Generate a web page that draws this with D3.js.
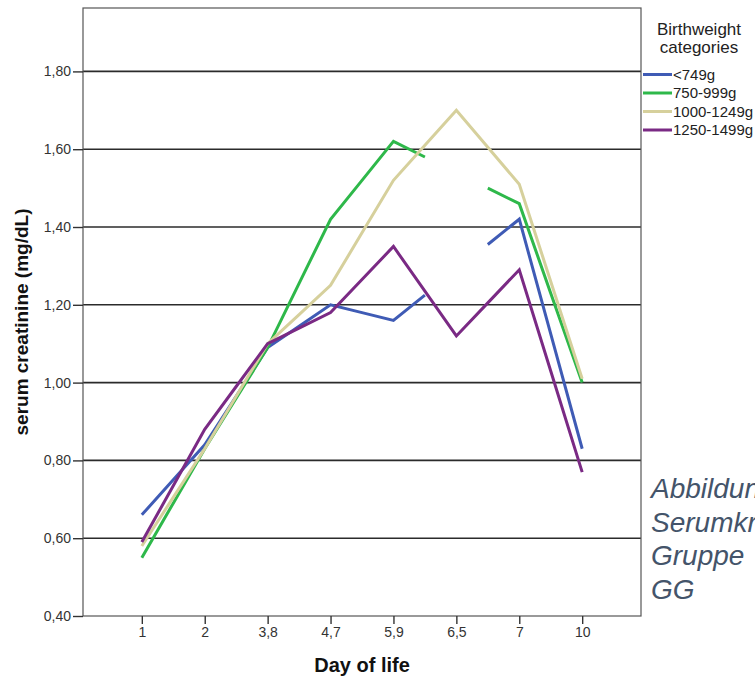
<!DOCTYPE html>
<html>
<head>
<meta charset="utf-8">
<script src="https://cdn.jsdelivr.net/npm/d3@7"></script>
<style>
  body { margin: 0; background: #fff; overflow: hidden; }
  svg { display: block; font-family: "Liberation Sans", Arial, sans-serif; }
</style>
</head>
<body>
<svg width="755" height="679"></svg>
<script>
// Chart data
const days = ["1", "2", "3,8", "4,7", "5,9", "6,5", "7", "10"];
const yTicks = [0.4, 0.6, 0.8, 1.0, 1.2, 1.4, 1.6, 1.8];
const categories = ["<749g", "750-999g", "1000-1249g", "1250-1499g"];
const colors = ["#3f5bb5", "#2eb84a", "#d6d09c", "#7a2a84"];

const below749 = [0.66, 0.84, 1.09, 1.20, 1.16, 1.29, 1.42, 0.83];
const from750 = [0.55, 0.83, 1.09, 1.42, 1.62, 1.54, 1.46, 1.00];
const from1000 = [0.58, 0.83, 1.10, 1.25, 1.52, 1.70, 1.51, 1.01];
const from1250 = [0.59, 0.88, 1.10, 1.18, 1.35, 1.12, 1.29, 0.77];
const seriesValues = [below749, from750, from1000, from1250];

// points at day 6,5 that the original chart leaves out (line broken there)
const hiddenAt65 = ["<749g", "750-999g"];

const frame = { left: 83, top: 8, right: 641, bottom: 616 };
const svg = d3.select("svg");

const xScale = d3.scalePoint()
                 .domain(days)
                 .range([frame.left, frame.right])
                 .padding(0.935);

const yScale = d3.scaleLinear()
                 .domain([0.4, 1.963])
                 .range([frame.bottom, frame.top]);

// Gridlines
svg.append("g")
  .selectAll("line")
  .data(yTicks.slice(1))
  .enter()
  .append("line")
    .attr("x1", frame.left)
    .attr("x2", frame.right)
    .attr("y1", d => yScale(d))
    .attr("y2", d => yScale(d))
    .attr("stroke", "#2b2b2b")
    .attr("stroke-width", 1.6);

// Frame
svg.append("rect")
    .attr("x", frame.left)
    .attr("y", frame.top)
    .attr("width", frame.right - frame.left)
    .attr("height", frame.bottom - frame.top)
    .attr("fill", "none")
    .attr("stroke", "#555")
    .attr("stroke-width", 1.2);

// Axes
const yAxis = d3.axisLeft(yScale)
                .tickValues(yTicks)
                .tickFormat(d => d3.format(".2f")(d).replace(".", ","))
                .tickSize(10)
                .tickPadding(2)
                .tickSizeOuter(0);

const xAxis = d3.axisBottom(xScale)
                .tickSize(8)
                .tickPadding(3)
                .tickSizeOuter(0);

const gy = svg.append("g")
    .attr("transform", `translate(${frame.left},0)`)
    .call(yAxis);

const gx = svg.append("g")
    .attr("transform", `translate(0,${frame.bottom})`)
    .call(xAxis);

[gx, gy].forEach(g => {
  g.select(".domain").remove();
  g.selectAll("line").attr("stroke", "#333").attr("stroke-width", 1.4);
  g.selectAll("text")
    .attr("fill", "#333")
    .style("font-size", "14px")
    .style("font-family", "'Liberation Sans', Arial, sans-serif");
});

// Lines: each segment drawn in two halves so a hidden point breaks the line around it
const line = d3.line()
               .defined(d => d.show)
               .x(d => d.x)
               .y(d => d.y);

categories.forEach((cat, s) => {
  const vals = seriesValues[s];
  const verts = [];
  vals.forEach((v, i) => {
    const show = !(days[i] === "6,5" && hiddenAt65.includes(cat));
    const p = { x: xScale(days[i]), y: yScale(v), show: show };
    if (i > 0) {
      const prev = verts[verts.length - 1];
      verts.push({ x: (prev.x + p.x) / 2, y: (prev.y + p.y) / 2, show: true });
    }
    verts.push(p);
  });
  svg.append("path")
      .datum(verts)
      .attr("d", line)
      .attr("fill", "none")
      .attr("stroke", colors[s])
      .attr("stroke-width", 3)
      .attr("stroke-linejoin", "miter");
});

// Legend
const legend = svg.append("g");

legend.selectAll(".title")
  .data(["Birthweight", "categories"])
  .enter()
  .append("text")
    .text(d => d)
    .attr("x", 699)
    .attr("y", (d, i) => 35 + i * 17.5)
    .style("text-anchor", "middle")
    .style("font-size", "17px")
    .attr("fill", "#222");

const items = legend.selectAll(".item")
  .data(categories)
  .enter()
  .append("g")
    .attr("transform", (d, i) => `translate(643,${74.5 + i * 18.5})`);

items.append("line")
    .attr("x1", 0)
    .attr("x2", 29)
    .attr("stroke", (d, i) => colors[i])
    .attr("stroke-width", 3);

items.append("text")
    .text(d => d)
    .attr("x", 30)
    .attr("dy", "0.35em")
    .style("font-size", "15px")
    .attr("fill", "#222");

// Y-Axis Label
svg.append("text")
    .text("serum creatinine (mg/dL)")
    .attr("transform", "rotate(-90)")
    .attr("x", -322)
    .attr("y", 28)
    .style("text-anchor", "middle")
    .style("font-size", "19px")
    .style("font-weight", "bold")
    .attr("fill", "#111");

// X-Axis Label
svg.append("text")
    .text("Day of life")
    .attr("x", 362)
    .attr("y", 672)
    .style("text-anchor", "middle")
    .style("font-size", "20px")
    .style("font-weight", "bold")
    .attr("fill", "#111");

// Caption text from the slide, cut off by the page edge as in the original
svg.selectAll(".caption")
  .data(["Abbildung", "Serumkreatinin", "Gruppe", "GG"])
  .enter()
  .append("text")
    .text(d => d)
    .attr("x", 651)
    .attr("y", (d, i) => 498 + i * 33.5)
    .style("font-size", "28px")
    .style("font-style", "italic")
    .attr("fill", "#44546a");
</script>
</body>
</html>
